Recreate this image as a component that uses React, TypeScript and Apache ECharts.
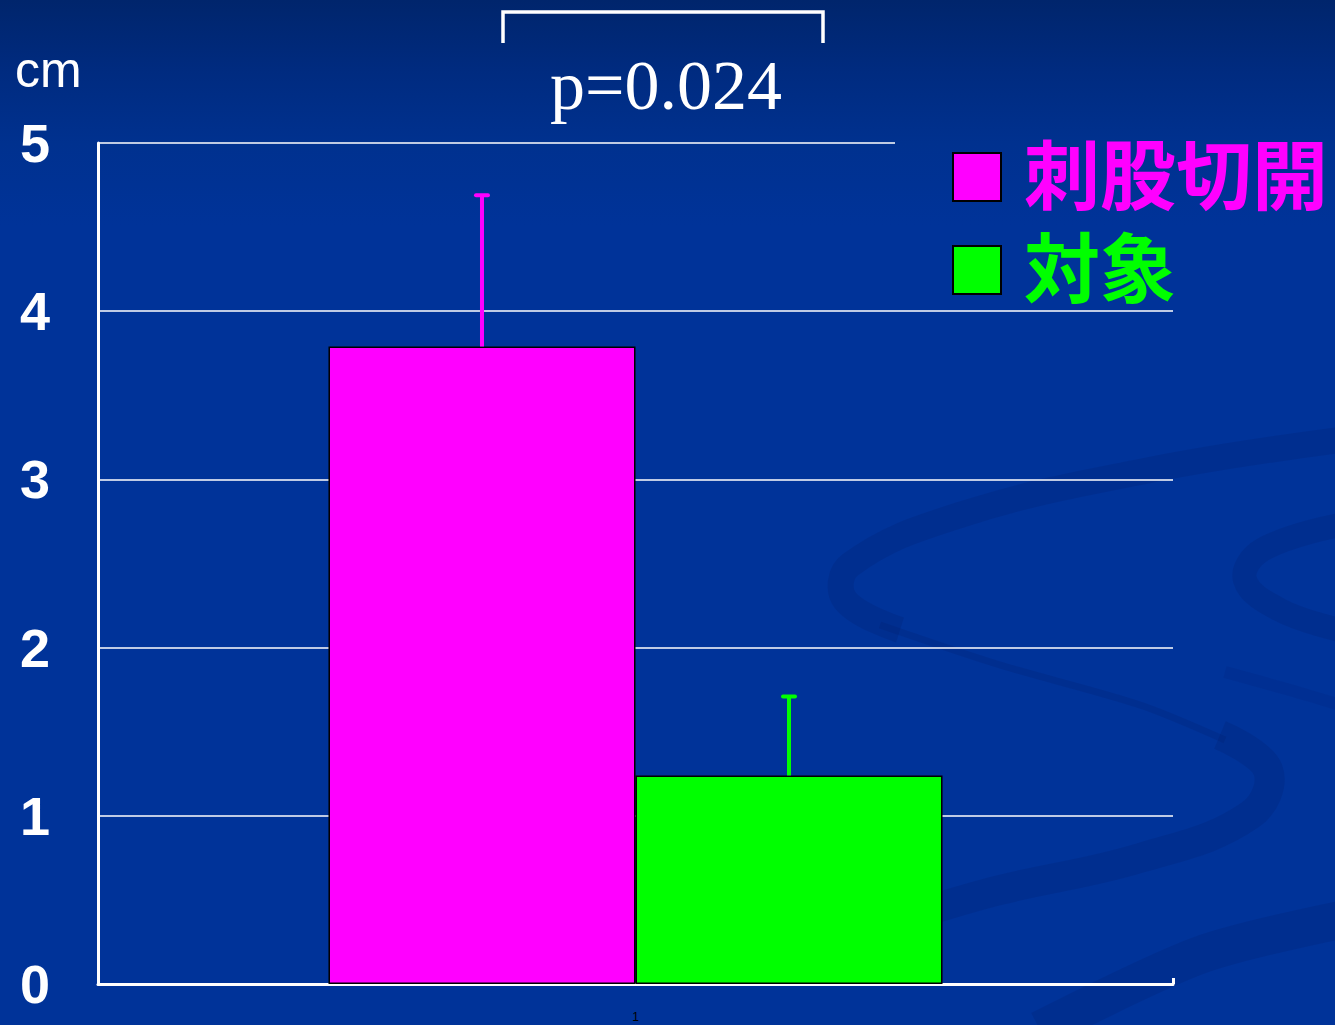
import React, { useEffect, useRef } from "react";
import * as echarts from "echarts";

const categories = ["1"];
const seriesNames = ["刺股切開", "対象"];
const seriesColors = ["#ff00ff", "#00ff00"];
const meanValues = [3.79, 1.24];
const errorTops = [4.69, 1.71];
const yTicks = [0, 1, 2, 3, 4, 5];
const unitLabel = "cm";
const pLabel = "p=0.024";

const BAR_FRAC = 0.2856;

export default function App() {
  const ref = useRef<HTMLDivElement>(null);
  useEffect(() => {
    document.body.style.margin = "0";
    const chart = echarts.init(ref.current!, null, { renderer: "svg" });
    const swirl = "rgba(0, 28, 105, 0.2)";
    const errorData = meanValues.map((m, i) => ({
      value: [0, m, errorTops[i], i === 0 ? -1 : 1],
    }));
    const option: any = {
      animation: false,
      backgroundColor: "transparent",
      grid: { left: 98, top: 143, right: 162, bottom: 41 },
      xAxis: {
        type: "category",
        data: categories,
        axisLine: { show: true, lineStyle: { color: "#ffffff", width: 3 } },
        axisTick: { show: true, inside: true, length: 6, lineStyle: { color: "#ffffff", width: 3 } },
        axisLabel: { color: "#000000", fontSize: 12, margin: 27, fontFamily: "Liberation Sans" },
        splitLine: { show: false },
      },
      yAxis: {
        type: "value",
        min: yTicks[0],
        max: yTicks[yTicks.length - 1],
        interval: 1,
        axisLine: { show: true, lineStyle: { color: "#ffffff", width: 3 } },
        axisTick: { show: false },
        axisLabel: {
          color: "#ffffff",
          fontSize: 54,
          fontWeight: "bold",
          margin: 48,
          fontFamily: "Liberation Sans",
          formatter: (v: number) => String(v),
        },
        splitLine: { show: true, showMaxLine: false, lineStyle: { color: "#ffffff", width: 1.5 } },
      },
      legend: {
        show: true,
        orient: "vertical",
        left: 952,
        top: 139,
        padding: 0,
        icon: "rect",
        itemWidth: 48,
        itemHeight: 48,
        itemGap: 17,
        itemStyle: { borderColor: "#000000", borderWidth: 2 },
        textStyle: {
          fontSize: 76,
          fontWeight: "bold",
          fontFamily: "Liberation Sans, 'Noto Sans CJK JP'",
          padding: [0, 0, 0, 18],
        },
        data: seriesNames.map((n, i) => ({ name: n, textStyle: { color: seriesColors[i] } })),
      },
      series: [
        ...seriesNames.map((n, i) => ({
          name: n,
          type: "bar",
          data: [meanValues[i]],
          barWidth: (BAR_FRAC * 100).toFixed(2) + "%",
          barGap: "0%",
          itemStyle: { color: seriesColors[i], borderColor: "#000000", borderWidth: 1.5 },
          z: 3,
        })),
        {
          name: "error",
          type: "custom",
          z: 4,
          data: errorData,
          renderItem: (params: any, api: any) => {
            const cat = api.value(0);
            const lo = api.value(1);
            const hi = api.value(2);
            const side = api.value(3);
            const color = seriesColors[params.dataIndex];
            const base = api.coord([cat, lo]);
            const top = api.coord([cat, hi]);
            const bw = api.size([1, 0])[0] * BAR_FRAC;
            const x = base[0] + (side * bw) / 2;
            return {
              type: "group",
              children: [
                { type: "line", shape: { x1: x, y1: base[1], x2: x, y2: top[1] }, style: { stroke: color, lineWidth: 4 } },
                { type: "line", shape: { x1: x - 6, y1: top[1], x2: x + 6, y2: top[1] }, style: { stroke: color, lineWidth: 4, lineCap: "round" } },
              ],
            };
          },
        },
      ],
      graphic: [
        // background swirls
        { type: "polyline", z: -10, silent: true, shape: { points: [[1340, 440], [1150, 470], [960, 515], [850, 565], [845, 600], [900, 630]], smooth: 0.4 }, style: { stroke: swirl, lineWidth: 26, fill: null } },
        { type: "polyline", z: -10, silent: true, shape: { points: [[880, 625], [1000, 665], [1140, 705], [1225, 740]], smooth: 0.3 }, style: { stroke: swirl, lineWidth: 7, fill: null } },
        { type: "polyline", z: -10, silent: true, shape: { points: [[1220, 735], [1268, 770], [1250, 815], [1140, 858], [1000, 890], [930, 910]], smooth: 0.4 }, style: { stroke: swirl, lineWidth: 30, fill: null } },
        { type: "polyline", z: -10, silent: true, shape: { points: [[1340, 525], [1262, 550], [1245, 580], [1280, 610], [1340, 630]], smooth: 0.4 }, style: { stroke: swirl, lineWidth: 24, fill: null } },
        { type: "polyline", z: -10, silent: true, shape: { points: [[1340, 920], [1200, 955], [1040, 1030]], smooth: 0.3 }, style: { stroke: swirl, lineWidth: 38, fill: null } },
        { type: "polyline", z: -10, silent: true, shape: { points: [[1225, 672], [1290, 690], [1340, 705]], smooth: 0.3 }, style: { stroke: "rgba(0, 28, 105, 0.12)", lineWidth: 12, fill: null } },
        // top gridline, stopping short of the legend
        { type: "line", z: 1, silent: true, shape: { x1: 98, y1: 143, x2: 895, y2: 143 }, style: { stroke: "#ffffff", lineWidth: 1.5 } },
        // unit label
        { type: "text", left: 15, top: 45, style: { text: unitLabel, fill: "#ffffff", fontSize: 50, fontFamily: "Liberation Sans" } },
        // significance bracket
        { type: "polyline", shape: { points: [[503, 43], [503, 12], [823, 12], [823, 43]] }, style: { stroke: "#ffffff", lineWidth: 3.5, fill: null } },
        { type: "text", x: 666, y: 120, style: { text: pLabel, fill: "#ffffff", fontSize: 70, fontFamily: "Liberation Serif", textAlign: "center", textVerticalAlign: "bottom" } },
      ],
    };
    chart.setOption(option);
    return () => chart.dispose();
  }, []);
  return (
    <div
      ref={ref}
      style={{
        width: 1335,
        height: 1025,
        background: "linear-gradient(to bottom, #00256c 0%, #002b80 7%, #00318f 14%, #003399 22%, #003399 100%)",
      }}
    />
  );
}
